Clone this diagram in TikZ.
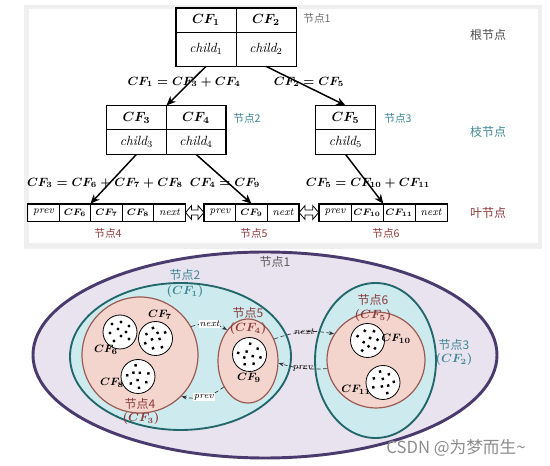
\documentclass[tikz,border=0pt]{standalone}
\usepackage{fontspec}
\usepackage{amsmath}
\usetikzlibrary{arrows.meta,shapes.geometric,calc}
\newfontfamily\cjk{Noto Sans CJK SC}
\definecolor{framegray}{HTML}{EFEFEF}
\definecolor{lblgray}{HTML}{707070}
\definecolor{tealtxt}{HTML}{3E8796}
\definecolor{maroontxt}{HTML}{8E3B3B}
\definecolor{outerfill}{HTML}{E8E3EE}
\definecolor{outerline}{HTML}{4A3A6E}
\definecolor{tealfill}{HTML}{CDEAEE}
\definecolor{tealline}{HTML}{22676C}
\definecolor{pinkfill}{HTML}{F3D5CE}
\definecolor{pinkline}{HTML}{9B5B52}
\tikzset{
  cfcell/.style={draw, line width=0.5pt, inner sep=0pt, font=\boldmath},
  chcell/.style={draw, line width=0.5pt, inner sep=0pt},
  leafcell/.style={draw, line width=0.5pt, inner sep=0pt, minimum width=23.6pt, minimum height=12.75pt, font=\scriptsize\boldmath},
  boxborder/.style={line width=1.2pt},
  treearrow/.style={line width=1.1pt, -{Stealth[length=7pt,width=6pt]}},
  elabel/.style={font=\small\boldmath, inner sep=0.5pt},
  dblarrow/.style={line width=0.6pt, fill=white},
  cjklbl/.style={font=\cjk\fontsize{8}{8}\selectfont, inner sep=0pt},
  sidelbl/.style={font=\cjk\fontsize{9}{9}\selectfont, inner sep=0pt},
  blbl/.style={font=\cjk\fontsize{9}{9}\selectfont, inner sep=0pt},
  bcf/.style={font=\small\boldmath, inner sep=0pt},
  scf/.style={font=\footnotesize\boldmath, inner sep=0pt},
  ell/.style={ellipse, inner sep=0pt},
  wcirc/.style={circle, draw=black, line width=0.6pt, fill=white, minimum size=25.5pt, inner sep=0pt},
  dasharr/.style={dash pattern=on 3pt off 2pt, line width=0.5pt, draw=black!80, -{Stealth[length=4pt,width=3pt]}},
  ptr/.style={font=\scriptsize\itshape, inner sep=0.6pt}
}
\newcommand\lw[1]{{\footnotesize\itshape #1}}
\newcommand\dotcloud[2]{%
  \begin{scope}[shift={(#1.center)}, rotate=#2]
    \foreach \a/\b in {-8/-8,1/-10,9/-6,-2/-3,6/0,-10/1,1/4,9/7,-6/9}
      \fill (\a,\b) circle (1.7);
  \end{scope}}
% hollow double-headed arrow between two anchors (horizontal)
\newcommand\hollowdbl[2]{%
  \draw[dblarrow] (#1) -- ++(6,-7) -- ++(0,4.5) -- ($(#2)+(-6,-2.5)$) -- ++(0,-4.5) -- (#2)
     -- ++(-6,7) -- ++(0,-4.5) -- ($(#1)+(6,2.5)$) -- ++(0,4.5) -- cycle;}
\begin{document}
\begin{tikzpicture}[x=0.75pt,y=-0.75pt]
\useasboundingbox (0,0) rectangle (550,466);
% ---------- top panel ----------
\fill[framegray] (24,5) rectangle (542,249);
\fill[white] (29,9) rectangle (538,243);

% root node
\node[cfcell, minimum width=45pt, minimum height=18pt] (r1) at (206,20) {$CF_1$};
\node[cfcell, minimum width=45pt, minimum height=18pt] (r2) at (266,20) {$CF_2$};
\node[chcell, minimum width=45pt, minimum height=25.5pt] (r3) at (206,49) {$\mathit{child}_1$};
\node[chcell, minimum width=45pt, minimum height=25.5pt] (r4) at (266,49) {$\mathit{child}_2$};
\draw[boxborder] (r1.north west) rectangle (r4.south east);

% node 2
\node[cfcell, minimum width=44.6pt, minimum height=17.6pt] (a1) at (136.5,117.5) {$CF_3$};
\node[cfcell, minimum width=44.6pt, minimum height=17.6pt] (a2) at (196,117.5) {$CF_4$};
\node[chcell, minimum width=44.6pt, minimum height=18.75pt] (a3) at (136.5,141.5) {$\mathit{child}_3$};
\node[chcell, minimum width=44.6pt, minimum height=18.75pt] (a4) at (196,141.5) {$\mathit{child}_4$};
\draw[boxborder] (a1.north west) rectangle (a4.south east);

% node 3
\node[cfcell, minimum width=44.6pt, minimum height=17.6pt] (b1) at (345.5,117.5) {$CF_5$};
\node[chcell, minimum width=44.6pt, minimum height=18.75pt] (b2) at (345.5,141.5) {$\mathit{child}_5$};
\draw[boxborder] (b1.north west) rectangle (b2.south east);

% leaves
\node[leafcell] (l4a) at (43.5,212.5) {\lw{prev}};
\node[leafcell] (l4b) at (75,212.5) {$CF_6$};
\node[leafcell] (l4c) at (106.5,212.5) {$CF_7$};
\node[leafcell] (l4d) at (138,212.5) {$CF_8$};
\node[leafcell] (l4e) at (169.5,212.5) {\lw{next}};
\draw[boxborder] (l4a.north west) rectangle (l4e.south east);

\node[leafcell] (l5a) at (220,212.5) {\lw{prev}};
\node[leafcell] (l5b) at (251.5,212.5) {$CF_9$};
\node[leafcell] (l5c) at (283,212.5) {\lw{next}};
\draw[boxborder] (l5a.north west) rectangle (l5c.south east);

\node[leafcell, minimum width=24pt] (l6a) at (335,212.5) {\lw{prev}};
\node[leafcell, minimum width=24pt] (l6b) at (367,212.5) {$CF_{10}$};
\node[leafcell, minimum width=24pt] (l6c) at (399,212.5) {$CF_{11}$};
\node[leafcell, minimum width=24pt] (l6d) at (431,212.5) {\lw{next}};
\draw[boxborder] (l6a.north west) rectangle (l6d.south east);

\hollowdbl{l4e.east}{l5a.west}
\hollowdbl{l5c.east}{l6a.west}

% tree arrows
\draw[treearrow] (r3.south) -- (a1.north east);
\draw[treearrow] (r4.south) -- (b1.north);
\draw[treearrow] (a3.south) -- (l4c.north west);
\draw[treearrow] (a4.south) -- (l5b.north);
\draw[treearrow] (b2.south) -- (l6b.north east);

\node[elabel] (e1) at (184,82) {$CF_1=CF_3+CF_4$};
\node[elabel] (e2) at (309,82) {$CF_2=CF_5$};
\node[elabel] (e3) at (105,183) {$CF_3=CF_6+CF_7+CF_8$};
\node[elabel] (e4) at (225,183) {$CF_4=CF_9$};
\node[elabel] (e5) at (368,183) {$CF_5=CF_{10}+CF_{11}$};

% labels top
\node[cjklbl, text=lblgray] (t1) at (317,18) {节点1};
\node[cjklbl, text=tealtxt] (t2) at (247,118) {节点2};
\node[cjklbl, text=tealtxt] (t3) at (398,118) {节点3};
\node[cjklbl, text=maroontxt] (t4) at (108,233) {节点4};
\node[cjklbl, text=maroontxt] (t5) at (254,233) {节点5};
\node[cjklbl, text=maroontxt] (t6) at (386,233) {节点6};
\node[sidelbl, text=black!70] (s1) at (488,35) {根节点};
\node[sidelbl, text=tealtxt] (s2) at (488,132) {枝节点};
\node[sidelbl, text=maroontxt] (s3) at (488,213) {叶节点};

% ---------- bottom diagram ----------
\node[ell, draw=outerline, fill=outerfill, line width=2.2pt, minimum width=348pt, minimum height=154.5pt] (o1) at (265,355) {};
\node[ell, draw=tealline, fill=tealfill, line width=1.4pt, minimum width=165.75pt, minimum height=110.25pt] (o2) at (180.5,356.5) {};
\node[ell, draw=tealline, fill=tealfill, line width=1.4pt, minimum width=90.75pt, minimum height=116.25pt] (o3) at (375.5,360.5) {};
\node[ell, draw=pinkline, fill=pinkfill, line width=0.9pt, minimum width=87pt, minimum height=87pt] (o4) at (140,355) {};
\node[ell, draw=pinkline, fill=pinkfill, line width=0.9pt, minimum width=45pt, minimum height=63pt] (o5) at (248,361) {};
\node[ell, draw=pinkline, fill=pinkfill, line width=0.9pt, minimum width=73.5pt, minimum height=72pt] (o6) at (376,360) {};

% white circles
\node[wcirc] (c6) at (120,332) {};
\node[wcirc] (c7) at (155.5,338.5) {};
\node[wcirc] (c8) at (138,376.5) {};
\node[wcirc] (c9) at (249.5,354.5) {};
\node[wcirc] (c10) at (367.5,340.5) {};
\node[wcirc] (c11) at (383,382.5) {};
\dotcloud{c6}{0}
\dotcloud{c7}{70}
\dotcloud{c8}{140}
\dotcloud{c9}{210}
\dotcloud{c10}{280}
\dotcloud{c11}{330}

% circle labels
\node[scf] (k6) at (106,350) {$CF_6$};
\node[scf] (k7) at (160,315) {$CF_7$};
\node[scf] (k8) at (112,383) {$CF_8$};
\node[scf] (k9) at (249,378) {$CF_9$};
\node[scf] (k10) at (396,339) {$CF_{10}$};
\node[scf] (k11) at (356,390) {$CF_{11}$};

% region labels
\node[blbl, text=black!65] (m1) at (275,262) {节点1};
\node[blbl, text=tealtxt] (m2) at (185,275) {节点2};
\node[bcf, text=tealtxt] (m2c) at (185,292) {$(CF_1)$};
\node[blbl, text=maroontxt] (m4) at (140,404) {节点4};
\node[bcf, text=maroontxt] (m4c) at (141,419) {$(CF_3)$};
\node[blbl, text=maroontxt] (m5) at (248,313) {节点5};
\node[bcf, text=maroontxt] (m5c) at (248,329) {$(CF_4)$};
\node[blbl, text=maroontxt] (m6) at (373,300) {节点6};
\node[bcf, text=maroontxt] (m6c) at (373,316) {$(CF_5)$};
\node[blbl, text=tealtxt] (m3) at (454,345) {节点3};
\node[bcf, text=tealtxt] (m3c) at (454,360) {$(CF_2)$};

% next / prev pointers
\draw[dasharr] (o4.29) to[bend left=25] node[ptr, fill=white] {next} (o5.124);
\draw[dasharr] (o5.227) to[bend left=25] node[ptr, fill=white] {prev} (o4.-45);
\draw[dasharr] (o5.40) to[bend left=15] node[ptr] {next} (o6.148);
\draw[dasharr] (o6.190) to[bend left=10] node[ptr] {prev} (o5.-4);

% watermark
\node[font=\cjk\fontsize{12.5}{12.5}\selectfont, text=black!45, inner sep=0pt] (wm) at (456,448) {CSDN @为梦而生\textasciitilde};
\end{tikzpicture}
\end{document}
